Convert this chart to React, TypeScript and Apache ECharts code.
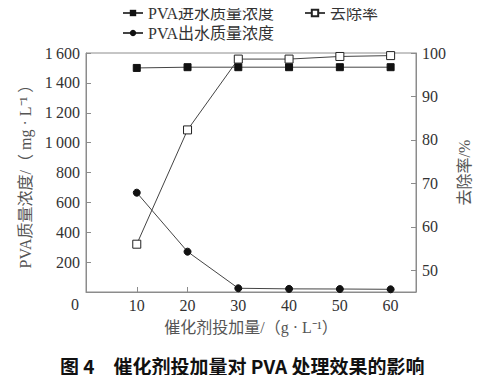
import React, { useEffect, useRef } from "react";
import * as echarts from "echarts";

const dosage = [10, 20, 30, 40, 50, 60];
const influent = [1500, 1505, 1505, 1505, 1505, 1505];
const effluent = [665, 270, 25, 21, 20, 18];
const removal = [56, 82.3, 98.6, 98.6, 99.2, 99.4];
const xTicks = [10, 20, 30, 40, 50, 60];
const leftTicks = [200, 400, 600, 800, 1000, 1200, 1400, 1600];
const rightTicks = [50, 60, 70, 80, 90, 100];

const SERIF = "'Liberation Serif', 'Noto Sans CJK SC', serif";
const AXIS = "#8c8c8c";
const TXT = "#333";

function fmtThousands(v: number): string {
  const s = String(v);
  if (s.length > 3) return s.slice(0, s.length - 3) + "\u2009" + s.slice(s.length - 3);
  return s;
}

export default function App() {
  const ref = useRef<HTMLDivElement>(null);
  useEffect(() => {
    if (!ref.current) return;
    const chart = echarts.init(ref.current, undefined, { renderer: "svg" });
    const pairs = (ys: number[]) => dosage.map((x, i) => [x, ys[i]]);
    const legendText = { fontFamily: SERIF, fontSize: 16, color: TXT };
    chart.setOption({
      animation: false,
      backgroundColor: "#fff",
      grid: {
        left: 86,
        right: 77,
        top: 53,
        bottom: 91,
        show: true,
        borderColor: AXIS,
        borderWidth: 1,
        backgroundColor: "transparent",
      },
      legend: [
        {
          data: ["PVA进水质量浓度"],
          left: 122,
          top: 5,
          itemWidth: 20,
          itemHeight: 8,
          textStyle: legendText,
          padding: 0,
        },
        {
          data: ["去除率"],
          left: 304,
          top: 5,
          itemWidth: 20,
          itemHeight: 8,
          textStyle: legendText,
          padding: 0,
        },
        {
          data: ["PVA出水质量浓度"],
          left: 122,
          top: 25,
          itemWidth: 20,
          itemHeight: 8,
          textStyle: legendText,
          padding: 0,
        },
      ],
      xAxis: {
        type: "value",
        min: 0,
        max: 65,
        name: "催化剂投加量/（g · L⁻¹）",
        nameLocation: "middle",
        nameGap: 27,
        nameTextStyle: { fontFamily: SERIF, fontSize: 16, color: "#555" },
        axisLine: { show: true, lineStyle: { color: AXIS } },
        axisTick: {
          show: true,
          inside: true,
          length: 5,
          customValues: xTicks,
          lineStyle: { color: AXIS },
        },
        axisLabel: {
          customValues: xTicks,
          margin: 5,
          fontFamily: SERIF,
          fontSize: 16,
          color: TXT,
        },
        splitLine: { show: false },
      },
      yAxis: [
        {
          type: "value",
          position: "left",
          min: 0,
          max: 1600,
          name: "PVA质量浓度/（ mg · L⁻¹ ）",
          nameLocation: "middle",
          nameRotate: 90,
          nameGap: 51,
          nameTextStyle: { fontFamily: SERIF, fontSize: 16, color: "#555" },
          axisLine: { show: true, lineStyle: { color: AXIS } },
          axisTick: {
            show: true,
            inside: true,
            length: 5,
            customValues: leftTicks,
            lineStyle: { color: AXIS },
          },
          axisLabel: {
            customValues: leftTicks,
            margin: 6,
            fontFamily: SERIF,
            fontSize: 16,
            color: TXT,
            formatter: (v: number) => fmtThousands(v),
          },
          splitLine: { show: false },
        },
        {
          type: "value",
          position: "right",
          min: 45,
          max: 100,
          name: "去除率/%",
          nameLocation: "middle",
          nameRotate: 90,
          nameGap: 34,
          nameTextStyle: { fontFamily: SERIF, fontSize: 16, color: "#555" },
          axisLine: { show: true, lineStyle: { color: AXIS } },
          axisTick: {
            show: true,
            inside: true,
            length: 5,
            customValues: rightTicks,
            lineStyle: { color: AXIS },
          },
          axisLabel: {
            customValues: rightTicks,
            margin: 6,
            fontFamily: SERIF,
            fontSize: 16,
            color: TXT,
          },
          splitLine: { show: false },
        },
      ],
      series: [
        {
          name: "PVA进水质量浓度",
          type: "line",
          yAxisIndex: 0,
          data: pairs(influent),
          symbol: "rect",
          symbolSize: 7,
          itemStyle: { color: "#111", borderColor: "#111" },
          lineStyle: { color: "#444", width: 1 },
        },
        {
          name: "PVA出水质量浓度",
          type: "line",
          yAxisIndex: 0,
          data: pairs(effluent),
          symbol: "circle",
          symbolSize: 7,
          itemStyle: { color: "#111", borderColor: "#111" },
          lineStyle: { color: "#444", width: 1 },
        },
        {
          name: "去除率",
          type: "line",
          yAxisIndex: 1,
          data: pairs(removal),
          symbol: "rect",
          symbolSize: 8,
          itemStyle: { color: "#fff", borderColor: "#222", borderWidth: 1 },
          lineStyle: { color: "#444", width: 1 },
        },
      ],
      graphic: [
        {
          type: "text",
          left: 71,
          top: 296,
          style: { text: "0", font: `16px ${SERIF}`, fill: TXT },
        },
        {
          type: "text",
          left: 60,
          top: 356,
          style: {
            text: "图 4　催化剂投加量对 PVA 处理效果的影响",
            font: `bold 19px 'Noto Sans CJK SC', sans-serif`,
            fill: "#111",
          },
        },
      ],
    });
    return () => chart.dispose();
  }, []);
  return <div ref={ref} style={{ width: 493, height: 383, margin: -8 }} />;
}
